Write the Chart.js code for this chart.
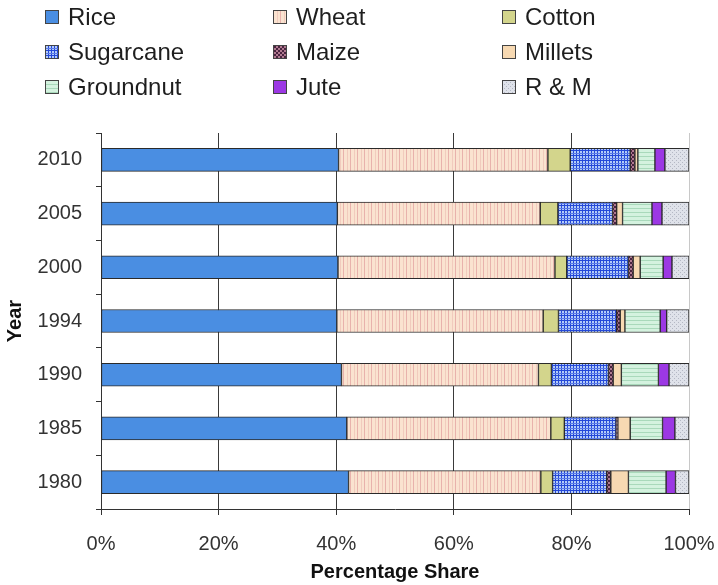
<!DOCTYPE html>
<html>
<head>
<meta charset="utf-8">
<script src="https://cdn.jsdelivr.net/npm/chart.js@4"></script>
<style>
  body { margin: 0; background: #fff; }
  canvas { display: block; }
</style>
</head>
<body>
<canvas id="cropChart" width="718" height="585"></canvas>
<script>
// years, top to bottom as drawn
const years = ['2010', '2005', '2000', '1994', '1990', '1985', '1980'];
const crops = ['Rice', 'Wheat', 'Cotton', 'Sugarcane', 'Maize', 'Millets', 'Groundnut', 'Jute', 'R & M'];

// percentage share per crop, same order as years
const rice      = [40.4, 40.2, 40.3, 40.1, 40.9, 41.8, 42.1];
const wheat     = [35.6, 34.5, 36.9, 35.1, 33.5, 34.7, 32.7];
const cotton    = [3.8, 3.0, 2.0, 2.6, 2.2, 2.3, 2.0];
const sugarcane = [10.2, 9.3, 10.5, 9.9, 9.7, 8.8, 9.2];
const maize     = [0.8, 0.7, 0.8, 0.6, 0.8, 0.3, 0.7];
const millets   = [0.5, 1.0, 1.2, 0.8, 1.4, 2.1, 3.0];
const groundnut = [2.9, 5.0, 3.9, 6.0, 6.3, 5.5, 6.4];
const jute      = [1.7, 1.7, 1.5, 1.1, 1.8, 2.1, 1.6];
const rAndM     = [4.1, 4.6, 2.9, 3.8, 3.4, 2.4, 2.3];

const xTicks = [0, 20, 40, 60, 80, 100];

// little tile patterns for the hatched fills
function makePattern(w, h, base, draw) {
    const c = document.createElement('canvas');
    c.width = w; c.height = h;
    const g = c.getContext('2d');
    g.fillStyle = base;
    g.fillRect(0, 0, w, h);
    draw(g);
    return c.getContext('2d').createPattern(c, 'repeat');
}

const wheatFill = makePattern(7, 4, '#fae3d0', g => {
    g.fillStyle = '#e8b2ac';
    g.fillRect(0, 0, 1, 4);
    g.fillStyle = '#f1cbbd';
    g.fillRect(4, 0, 1, 4);
});
const sugarFill = makePattern(6, 5, '#b4ccf8', g => {
    g.fillStyle = '#2448d8';
    g.fillRect(0, 0, 1, 5);
    g.fillRect(3, 0, 1, 5);
    g.fillRect(0, 0, 6, 1);
    g.fillStyle = '#5a7ae8';
    g.fillRect(0, 3, 6, 1);
});
const maizeFill = makePattern(4, 4, '#b07a90', g => {
    g.fillStyle = '#4a2440';
    g.fillRect(0, 0, 2, 2);
    g.fillRect(2, 2, 2, 2);
});
const groundFill = makePattern(4, 4, '#d4f2df', g => {
    g.fillStyle = '#a9d9bb';
    g.fillRect(0, 0, 4, 1);
});
const rmFill = makePattern(4, 4, '#dfe2ea', g => {
    g.fillStyle = '#b4b8c4';
    g.fillRect(0, 0, 1, 1);
    g.fillRect(2, 2, 1, 1);
});

const fills = ['#4a8ee2', wheatFill, '#d3d58c', sugarFill, maizeFill, '#f7d9b2', groundFill, '#9c38e4', rmFill];
const series = [rice, wheat, cotton, sugarcane, maize, millets, groundnut, jute, rAndM];

// legend laid out in a fixed 3 x 3 grid like the original
const gridLegend = {
    id: 'gridLegend',
    afterDraw(chart) {
        const ctx = chart.ctx;
        const colX = [45, 273, 502];
        const rowY = [17, 52, 87];
        ctx.save();
        ctx.font = '24px "Liberation Sans", Arial, sans-serif';
        ctx.textBaseline = 'middle';
        crops.forEach((name, i) => {
            const x = colX[i % 3];
            const y = rowY[Math.floor(i / 3)];
            ctx.fillStyle = fills[i];
            ctx.fillRect(x, y - 7, 14, 14);
            ctx.strokeStyle = '#444';
            ctx.lineWidth = 1;
            ctx.strokeRect(x + 0.5, y - 6.5, 13, 13);
            ctx.fillStyle = '#1e1e1e';
            ctx.fillText(name, x + 23, y + 1);
        });
        ctx.restore();
    }
};

const whiteBg = {
    id: 'whiteBg',
    beforeDraw(chart) {
        const ctx = chart.ctx;
        ctx.save();
        ctx.fillStyle = '#fff';
        ctx.fillRect(0, 0, chart.width, chart.height);
        ctx.restore();
    }
};

new Chart(document.getElementById('cropChart'), {
    type: 'bar',
    data: {
        labels: years,
        datasets: crops.map((name, i) => ({
            label: name,
            data: series[i],
            backgroundColor: fills[i],
            borderColor: '#2a2a2a',
            borderWidth: 1,
            borderSkipped: false,
            barThickness: 23
        }))
    },
    options: {
        indexAxis: 'y',
        responsive: false,
        animation: false,
        devicePixelRatio: 1,
        layout: { padding: { top: 133, right: 29, left: 0, bottom: 0 } },
        plugins: {
            legend: { display: false },
            tooltip: { enabled: false }
        },
        scales: {
            x: {
                stacked: true,
                min: 0,
                max: 100,
                afterBuildTicks: scale => { scale.ticks = xTicks.map(v => ({ value: v })); },
                afterFit: scale => {
                    scale.height = 76;
                    scale.paddingLeft = 0;
                    scale.paddingRight = 0;
                },
                ticks: {
                    callback: v => v + '%',
                    color: '#333',
                    font: { family: '"Liberation Sans", Arial, sans-serif', size: 20 },
                    padding: 17,
                    maxRotation: 0
                },
                grid: {
                    color: ctx => (ctx.tick && ctx.tick.value === 100) ? '#c8c8c8' : '#3a3a3a',
                    lineWidth: 1,
                    tickLength: 6,
                    tickColor: '#333'
                },
                border: { display: true, color: '#333', width: 1 },
                title: {
                    display: true,
                    text: 'Percentage Share',
                    color: '#111',
                    font: { family: '"Liberation Sans", Arial, sans-serif', size: 20, weight: 'bold' },
                    padding: { top: 2, bottom: 1 }
                }
            },
            y: {
                stacked: true,
                afterFit: scale => { scale.width = 101; },
                ticks: {
                    color: '#333',
                    font: { family: '"Liberation Sans", Arial, sans-serif', size: 20 },
                    padding: 14
                },
                grid: {
                    offset: true,
                    drawOnChartArea: false,
                    tickLength: 5,
                    color: '#333'
                },
                border: { display: true, color: '#333', width: 1 },
                title: {
                    display: true,
                    text: 'Year',
                    color: '#111',
                    font: { family: '"Liberation Sans", Arial, sans-serif', size: 20, weight: 'bold' },
                    padding: { top: 3, bottom: 0 }
                }
            }
        }
    },
    plugins: [whiteBg, gridLegend]
});
</script>
</body>
</html>
